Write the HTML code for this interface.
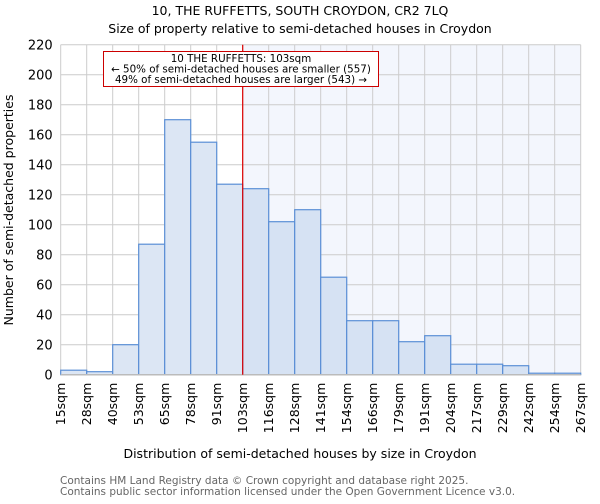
<!DOCTYPE html>
<html><head><meta charset="utf-8"><style>
body{margin:0;background:#fff;font-family:"DejaVu Sans","Liberation Sans",sans-serif}
</style></head><body>
<svg id="c" width="600" height="500" style="font-family:'DejaVu Sans','Liberation Sans',sans-serif">
<text x="300" y="15" text-anchor="middle" font-size="12.5">10, THE RUFFETTS, SOUTH CROYDON, CR2 7LQ</text>
<text x="300" y="33" text-anchor="middle" font-size="12.5">Size of property relative to semi-detached houses in Croydon</text>
<g id="plot"></g>
<text x="300" y="458" text-anchor="middle" font-size="12.5">Distribution of semi-detached houses by size in Croydon</text>
<text transform="translate(13,210) rotate(-90)" text-anchor="middle" font-size="12.5">Number of semi-detached properties</text>
<text x="60" y="484" font-size="10.5" fill="#666">Contains HM Land Registry data © Crown copyright and database right 2025.</text>
<text x="60" y="495" font-size="10.5" fill="#666">Contains public sector information licensed under the Open Government Licence v3.0.</text>
</svg>
<script>
const categories=["15sqm","28sqm","40sqm","53sqm","65sqm","78sqm","91sqm","103sqm","116sqm","128sqm","141sqm","154sqm","166sqm","179sqm","191sqm","204sqm","217sqm","229sqm","242sqm","254sqm","267sqm"];
const counts=[3,2,20,87,170,155,127,124,102,110,65,36,36,22,26,7,7,6,1,1];
const yTicks=[0,20,40,60,80,100,120,140,160,180,200,220];
const markerIndex=7;
const ns="http://www.w3.org/2000/svg";
const L=60.7,R=580.7,T=44.7,B=374.7,yMax=220;
const bw=(R-L)/counts.length;
const xs=i=>L+i*bw;
const ys=v=>B-(v/yMax)*(B-T);
const g=document.getElementById('plot');
function mk(t,a,p){const e=document.createElementNS(ns,t);for(const k in a)e.setAttribute(k,a[k]);(p||g).appendChild(e);return e;}
const mx=xs(markerIndex);
let e=mk('rect',{x:mx,y:T,width:R-mx,height:B-T,fill:'#f3f6fd'});


yTicks.forEach(v=>{
 let l=mk('line',{x1:L,x2:R,y1:ys(v),y2:ys(v),stroke:'#ccc','stroke-width':1});
 
 
 let t=mk('text',{x:L-8,y:ys(v)+5,'text-anchor':'end','font-size':13});
 t.textContent=v;
 
 
});
categories.forEach((c,i)=>{
 let l=mk('line',{x1:xs(i),x2:xs(i),y1:T,y2:B,stroke:'#ccc','stroke-width':1});
 
 
 let x=xs(i)+4.5,y=B+8;
 let t=mk('text',{x:x,y:y,'text-anchor':'end','font-size':12.5,transform:`rotate(-90 ${x} ${y})`});
 t.textContent=c;
 
 
});
counts.forEach((v,i)=>{
 let r=mk('rect',{x:xs(i),y:ys(v),width:bw,height:B-ys(v),fill:i>=markerIndex?'#d6e2f3':'#dce6f4',stroke:'#5b8fd6','stroke-width':1.2});
 
 
});
let ax=mk('line',{x1:L,x2:R,y1:B,y2:B,stroke:'#bbb','stroke-width':1.5});


let ml=mk('line',{x1:mx,x2:mx,y1:T,y2:B,stroke:'#d00','stroke-width':1.2});


let bx=mk('rect',{x:103.5,y:51.5,width:275,height:35,fill:'#fff',stroke:'#c00','stroke-width':1});


["10 THE RUFFETTS: 103sqm","← 50% of semi-detached houses are smaller (557)","49% of semi-detached houses are larger (543) →"].forEach((s,i)=>{
 let t=mk('text',{x:241,y:62+i*10.5,'text-anchor':'middle','font-size':10.3});
 t.textContent=s;
 
 
});
</script>
</body></html>
